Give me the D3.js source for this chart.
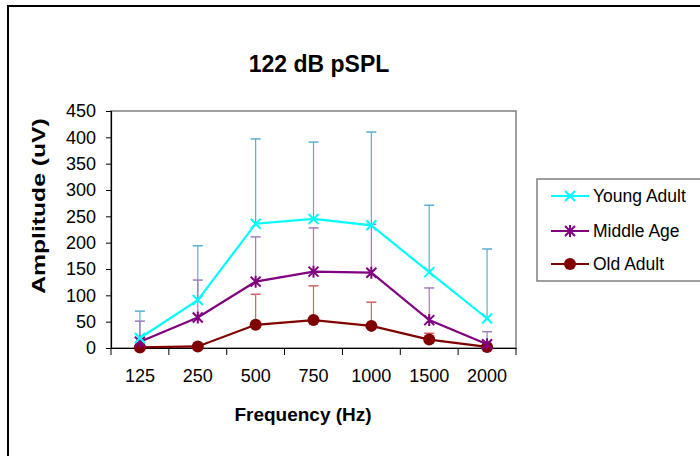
<!DOCTYPE html>
<html>
<head>
<meta charset="utf-8">
<script src="https://cdn.jsdelivr.net/npm/d3@7"></script>
<style>
  body { margin: 0; background: #fff; }
  text { font-family: "Liberation Sans", Arial, sans-serif; }
</style>
</head>
<body>
<div id="chart"></div>
<script>
// frequencies on the x axis
const frequencies = ["125", "250", "500", "750", "1000", "1500", "2000"];
const yTicks = [0, 50, 100, 150, 200, 250, 300, 350, 400, 450];

// mean amplitudes (uV)
const youngAdult = [19, 91, 236, 245, 233, 144, 56];
const middleAge = [12, 58, 126, 145, 143, 53, 7];
const oldAdult = [1, 3, 44, 53, 42, 16, 2];

// top of the error bars
const youngErr = [70, 194, 397, 391, 410, 271, 188];
const middleErr = [51, 129, 211, 228, 235, 114, 31];
const oldErr = [1, 3, 102, 118, 87, 28, 5];

const seriesNames = ["Young Adult", "Middle Age", "Old Adult"];

const width = 700, height = 456;
const plot = {left: 111, top: 111, right: 516, bottom: 348};

const svg = d3.select("#chart").append("svg")
    .attr("width", width)
    .attr("height", height);

// outer frame (only left and top edges show)
svg.append("path")
    .attr("d", `M8,${height} L8,6 L${width},6`)
    .attr("fill", "none")
    .attr("stroke", "#000")
    .attr("stroke-width", 2);

// title
svg.append("text")
    .attr("x", 319)
    .attr("y", 72)
    .attr("text-anchor", "middle")
    .attr("font-size", 23)
    .attr("font-weight", "bold")
    .text("122 dB pSPL");

const x = d3.scaleBand()
    .domain(frequencies)
    .range([plot.left, plot.right]);

const y = d3.scaleLinear()
    .domain([0, 450])
    .range([plot.bottom, plot.top]);

// plot area border
svg.append("rect")
    .attr("x", plot.left)
    .attr("y", plot.top)
    .attr("width", plot.right - plot.left)
    .attr("height", plot.bottom - plot.top)
    .attr("fill", "#fff")
    .attr("stroke", "#808080")
    .attr("stroke-width", 1.5);

// axes
const yAxis = svg.append("g")
    .attr("transform", `translate(${plot.left},0)`)
    .call(d3.axisLeft(y).tickValues(yTicks).tickSize(5).tickPadding(10));

const xAxis = svg.append("g")
    .attr("transform", `translate(0,${plot.bottom})`)
    .call(d3.axisBottom(x).tickSize(0).tickPadding(21));

// x ticks sit on band edges
xAxis.selectAll(".edge")
    .data(d3.range(frequencies.length + 1))
    .enter().append("line")
    .attr("x1", i => plot.left + i * x.step())
    .attr("x2", i => plot.left + i * x.step())
    .attr("y1", 0)
    .attr("y2", 7)
    .attr("stroke", "#000");

[xAxis, yAxis].forEach(ax => {
    ax.select(".domain").attr("stroke", "#000").attr("stroke-width", 1.2);
    ax.selectAll("text").attr("font-size", 18).attr("fill", "#000")
        .attr("font-family", "'Liberation Sans', Arial, sans-serif");
});

// axis titles
svg.append("text")
    .attr("x", 303)
    .attr("y", 421)
    .attr("text-anchor", "middle")
    .attr("font-size", 19)
    .attr("font-weight", "bold")
    .text("Frequency (Hz)");

svg.append("text")
    .attr("transform", "translate(45,206) rotate(-90) scale(1.3,1)")
    .attr("text-anchor", "middle")
    .attr("font-size", 19)
    .attr("font-weight", "bold")
    .text("Amplitude (uV)");

const series = [
    {name: seriesNames[0], values: youngAdult, err: youngErr, color: "#00ffff", errColor: "#5aaed0", marker: "x"},
    {name: seriesNames[1], values: middleAge, err: middleErr, color: "#800080", errColor: "#a07cb8", marker: "star"},
    {name: seriesNames[2], values: oldAdult, err: oldErr, color: "#800000", errColor: "#d06464", marker: "circle"}
];

const cx = d => x(d) + x.bandwidth() / 2;

// error bars
series.forEach(s => {
    const g = svg.append("g");
    frequencies.forEach((f, i) => {
        if (s.err[i] - s.values[i] < 2) return;
        g.append("line")
            .attr("x1", cx(f)).attr("x2", cx(f))
            .attr("y1", y(s.values[i])).attr("y2", y(s.err[i]))
            .attr("stroke", s.errColor).attr("stroke-width", 1.2);
        g.append("line")
            .attr("x1", cx(f) - 5).attr("x2", cx(f) + 5)
            .attr("y1", y(s.err[i])).attr("y2", y(s.err[i]))
            .attr("stroke", s.errColor).attr("stroke-width", 1.5);
    });
});

function drawMarker(g, type, px, py, color) {
    if (type === "circle") {
        g.append("circle").attr("cx", px).attr("cy", py).attr("r", 6).attr("fill", color);
    } else {
        const r = 5;
        g.append("path")
            .attr("d", `M${px - r},${py - r}L${px + r},${py + r}M${px - r},${py + r}L${px + r},${py - r}`
                + (type === "star" ? `M${px},${py - r - 1}L${px},${py + r + 1}` : ""))
            .attr("stroke", color).attr("stroke-width", 2).attr("fill", "none");
    }
}

const line = d3.line()
    .x((d, i) => cx(frequencies[i]))
    .y(d => y(d));

// lines and markers (old adult drawn last so it sits on top)
series.slice().reverse().forEach(s => {
    const g = svg.append("g");
    g.append("path")
        .attr("d", line(s.values))
        .attr("fill", "none")
        .attr("stroke", s.color)
        .attr("stroke-width", 2.2);
    s.values.forEach((v, i) => drawMarker(g, s.marker, cx(frequencies[i]), y(v), s.color));
});

// legend
const legend = svg.append("g");
legend.append("rect")
    .attr("x", 537).attr("y", 179)
    .attr("width", 170).attr("height", 102)
    .attr("fill", "#fff")
    .attr("stroke", "#808080")
    .attr("stroke-width", 1.5);

const legendY = [196, 231, 264];
series.forEach((s, i) => {
    const ly = legendY[i];
    legend.append("line")
        .attr("x1", 551).attr("x2", 589)
        .attr("y1", ly).attr("y2", ly)
        .attr("stroke", s.color).attr("stroke-width", 2.2);
    drawMarker(legend, s.marker, 570, ly, s.color);
    legend.append("text")
        .attr("x", 593).attr("y", ly + 6)
        .attr("font-size", 17.5)
        .text(s.name);
});
</script>
</body>
</html>
